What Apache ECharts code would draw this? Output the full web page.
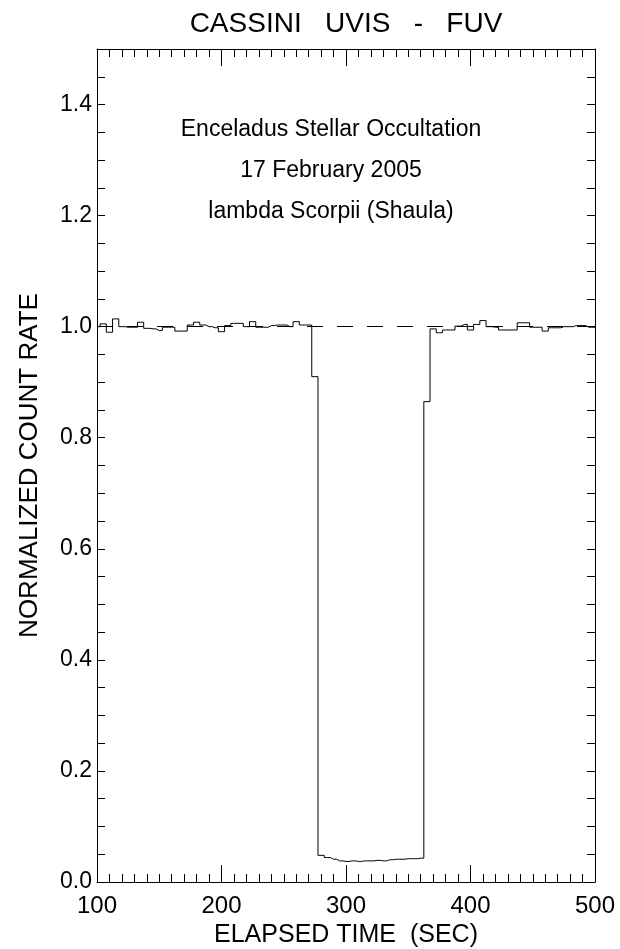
<!DOCTYPE html>
<html>
<head>
<meta charset="utf-8">
<script src="https://cdn.jsdelivr.net/npm/echarts@6/dist/echarts.min.js"></script>
<style>
  html, body { margin: 0; padding: 0; background: #fff; }
  #occChart { width: 620px; height: 949px; }
</style>
</head>
<body>
<div id="occChart"></div>
<script>
// elapsed time (bin centres, sec) and normalized count rate
const times = [
  100, 105, 110, 115, 120, 125, 130, 135, 140, 145,
  150, 155, 160, 165, 170, 175, 180, 185, 190, 195,
  200, 205, 210, 215, 220, 225, 230, 235, 240, 245,
  250, 255, 260, 265, 270, 275, 280, 285, 290, 295,
  300, 305, 310, 315, 320, 325, 330, 335, 340, 345,
  350, 355, 360, 365, 370, 375, 380, 385, 390, 395,
  400, 405, 410, 415, 420, 425, 430, 435, 440, 445,
  450, 455, 460, 465, 470, 475, 480, 485, 490, 495,
  500
];
const countRate = [
  1.000, 1.005, 0.990, 1.014, 1.000, 0.999, 0.999, 1.008, 0.997, 0.996,
  0.993, 0.999, 0.999, 0.992, 0.992, 1.003, 1.008, 1.003, 1.000, 0.998,
  0.991, 1.002, 1.006, 1.006, 1.000, 1.009, 0.999, 0.999, 1.002, 1.003,
  1.003, 1.000, 1.009, 1.003, 1.003, 0.910, 0.048, 0.044, 0.041, 0.038,
  0.037, 0.038, 0.037, 0.038, 0.038, 0.039, 0.038, 0.040, 0.041, 0.041,
  0.042, 0.042, 0.043, 0.865, 0.996, 0.989, 0.994, 0.994, 1.001, 1.004,
  0.994, 1.004, 1.011, 1.000, 0.999, 0.994, 0.994, 0.994, 1.007, 1.007,
  0.999, 0.999, 0.992, 0.998, 0.998, 1.000, 1.000, 1.002, 1.002, 0.999,
  0.999
];
const unobscured = 1.0;  // dashed reference level
const infoLines = [
  'Enceladus Stellar Occultation',
  '17 February 2005',
  'lambda Scorpii (Shaula)'
];

const font = "'Liberation Sans', Arial, sans-serif";
const ink = '#000';

let chart = echarts.init(document.getElementById('occChart'));

// frame axes: bottom/left carry labels, top/right only ticks
function xFrame(pos, withLabels) {
  return {
    type: 'value',
    position: pos,
    min: 100,
    max: 500,
    interval: 100,
    name: withLabels ? 'ELAPSED TIME  (SEC)' : '',
    nameLocation: 'middle',
    nameGap: 40,
    nameTextStyle: { color: ink, fontFamily: font, fontSize: 25 },
    axisLine: { show: true, onZero: false, lineStyle: { color: ink, width: 1 } },
    axisTick: { show: true, inside: true, length: 17, lineStyle: { color: ink } },
    minorTick: { show: true, splitNumber: 10, length: 8, lineStyle: { color: ink } },
    axisLabel: {
      show: withLabels,
      color: ink,
      fontFamily: font,
      fontSize: 24,
      margin: 12
    },
    splitLine: { show: false },
    minorSplitLine: { show: false }
  };
}

function yFrame(pos, withLabels) {
  return {
    type: 'value',
    position: pos,
    min: 0,
    max: 1.5,
    interval: 0.05,
    name: withLabels ? 'NORMALIZED COUNT RATE' : '',
    nameLocation: 'middle',
    nameGap: 54,
    nameTextStyle: { color: ink, fontFamily: font, fontSize: 26 },
    axisLine: { show: true, onZero: false, lineStyle: { color: ink, width: 1 } },
    axisTick: { show: true, inside: true, length: 8, lineStyle: { color: ink } },
    axisLabel: {
      show: withLabels,
      color: ink,
      fontFamily: font,
      fontSize: 23,
      margin: 5,
      formatter: function (v) {
        // only every 0.2 gets a number
        return Math.abs(v * 5 - Math.round(v * 5)) < 1e-6 ? v.toFixed(1) : '';
      }
    },
    splitLine: { show: false }
  };
}

chart.setOption({
  backgroundColor: '#fff',
  animation: false,
  title: {
    text: 'CASSINI   UVIS   -   FUV',
    left: 341,
    textAlign: 'center',
    top: 5,
    textStyle: { color: ink, fontFamily: font, fontSize: 28, fontWeight: 'normal' }
  },
  grid: { left: 97, right: 25, top: 49, bottom: 67, outerBoundsMode: 'none' },
  xAxis: [xFrame('bottom', true), xFrame('top', false)],
  yAxis: [yFrame('left', true), yFrame('right', false)],
  graphic: infoLines.map(function (line, i) {
    return {
      type: 'text',
      x: 331,
      y: 130 + i * 41,
      style: {
        text: line,
        fill: ink,
        font: '23px ' + font,
        textAlign: 'center',
        textVerticalAlign: 'middle'
      }
    };
  }),
  series: [
    {
      type: 'line',
      step: 'middle',
      xAxisIndex: 0,
      yAxisIndex: 0,
      data: times.map((t, i) => [t, countRate[i]]),
      symbol: 'none',
      lineStyle: { color: ink, width: 1 },
      markLine: {
        silent: true,
        symbol: 'none',
        label: { show: false },
        lineStyle: { color: ink, width: 1, type: [16, 14] },
        data: [{ yAxis: unobscured }]
      }
    }
  ]
});
</script>
</body>
</html>
